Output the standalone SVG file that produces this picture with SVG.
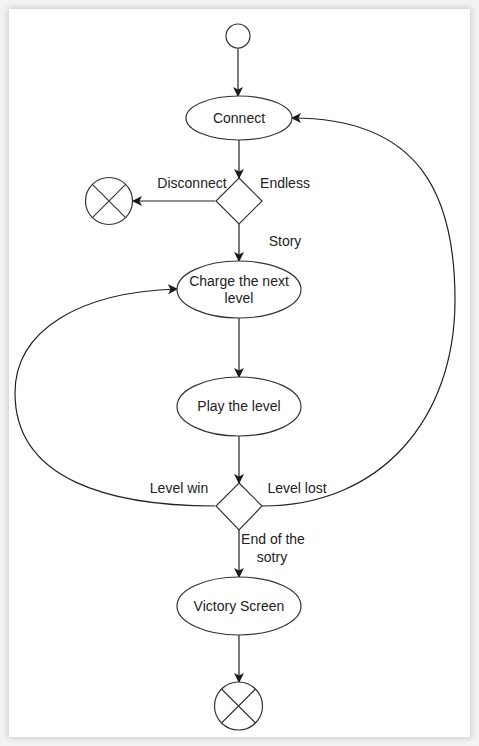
<svg xmlns="http://www.w3.org/2000/svg" width="479" height="746" viewBox="0 0 479 746">
<defs>
<filter id="sh" x="-5%" y="-5%" width="110%" height="110%"><feGaussianBlur stdDeviation="3"/></filter>
<marker id="arr" viewBox="0 0 10 10" refX="9" refY="5" markerWidth="10" markerHeight="10" markerUnits="userSpaceOnUse" orient="auto">
<path d="M0,0 L10,5 L0,10 L2.5,5 Z" fill="#1a1a1a"/>
</marker>
</defs>
<style>
.n{fill:#fff;stroke:#333;stroke-width:1.2}
.e{fill:none;stroke:#222;stroke-width:1.2;marker-end:url(#arr)}
.c{fill:none;stroke:#333;stroke-width:1.1}
text{font-family:"Liberation Sans",Arial,sans-serif;font-size:14px;fill:#222}
.m{text-anchor:middle}
</style>
<rect width="479" height="746" fill="#f3f3f3"/>
<rect x="8" y="8" width="463" height="730" fill="#c8c8c8" filter="url(#sh)"/>
<rect x="9" y="9" width="461" height="728" fill="#fff"/>

<g id="connectors">
<line class="e" x1="238" y1="48" x2="238" y2="96"/>
<line class="e" x1="239" y1="140" x2="239" y2="178"/>
<line class="e" x1="215" y1="201" x2="133" y2="201"/>
<line class="e" x1="239" y1="224" x2="239" y2="261"/>
<line class="e" x1="239" y1="318" x2="239" y2="377"/>
<line class="e" x1="239" y1="436" x2="239" y2="483"/>
<line class="e" x1="239" y1="530" x2="239" y2="577"/>
<line class="e" x1="239" y1="635" x2="239" y2="682"/>
<path class="e" d="M215,506 C110,506 15,480 15,393 C15,330 80,292 177,289"/>
<path class="e" d="M262,506 C380,506 455,420 455,300 C455,195 420,118 292,118"/>
<text x="192" y="188" class="m">Disconnect</text>
<text x="285" y="188" class="m">Endless</text>
<text x="285" y="246" class="m">Story</text>
<text x="179" y="493" class="m">Level win</text>
<text x="297" y="493" class="m">Level lost</text>
<text x="273" y="544" class="m">End of the</text>
<text x="272" y="562" class="m">sotry</text>
</g>

<g id="start"><circle class="n" cx="238" cy="36" r="12"/></g>
<g id="connect"><ellipse class="n" cx="239" cy="118" rx="53" ry="22"/><text x="239" y="123" class="m">Connect</text></g>
<g id="decision1"><path class="n" d="M239,178 L262,201 L239,224 L216,201 Z"/></g>
<g id="end1"><circle class="n" cx="109" cy="201" r="23.5"/><path class="c" d="M92.4,184.4 L125.6,217.6 M125.6,184.4 L92.4,217.6"/></g>
<g id="charge"><ellipse class="n" cx="239" cy="289.5" rx="62" ry="28.5"/><text x="239" y="286" class="m">Charge the next</text><text x="239" y="303" class="m">level</text></g>
<g id="play"><ellipse class="n" cx="239" cy="406.5" rx="62" ry="29.5"/><text x="239" y="411" class="m">Play the level</text></g>
<g id="decision2"><path class="n" d="M239,483 L262,506 L239,530 L216,506 Z"/></g>
<g id="victory"><ellipse class="n" cx="239" cy="606" rx="62" ry="29"/><text x="239" y="611" class="m">Victory Screen</text></g>
<g id="end2"><circle class="n" cx="238.5" cy="706" r="24"/><path class="c" d="M221.5,689 L255.5,723 M255.5,689 L221.5,723"/></g>
</svg>
